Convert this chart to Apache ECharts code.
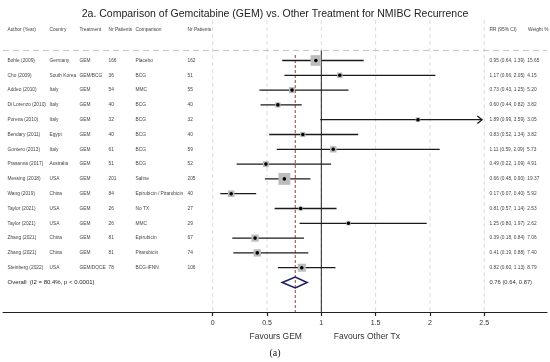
<!DOCTYPE html>
<html><head><meta charset="utf-8">
<script src="https://cdn.jsdelivr.net/npm/echarts@6/dist/echarts.min.js"></script>
<style>html,body{margin:0;padding:0;background:#fff}#c{width:550px;height:362px}</style>
</head><body><div id="c"></div>
<script>
// ---------------- DATA ----------------
const title = '2a. Comparison of Gemcitabine (GEM) vs. Other Treatment for NMIBC Recurrence';
const headers = ['Author (Year)', 'Country', 'Treatment', 'Nr Patients', 'Comparison', 'Nr Patients', 'RR (95% CI)', 'Weight %'];
const authors = ['Bohle (2009)', 'Cho (2009)', 'Addeo (2010)', 'Di Lorenzo (2010)', 'Porena (2010)', 'Bendary (2011)', 'Gontero (2013)', 'Prasanna (2017)', 'Messing (2018)', 'Wang (2019)', 'Taylor (2021)', 'Taylor (2021)', 'Zhang (2021)', 'Zhang (2021)', 'Steinberg (2022)'];
const countries = ['Germany', 'South Korea', 'Italy', 'Italy', 'Italy', 'Egypt', 'Italy', 'Australia', 'USA', 'China', 'USA', 'USA', 'China', 'China', 'USA'];
const treatments = ['GEM', 'GEM/BCG', 'GEM', 'GEM', 'GEM', 'GEM', 'GEM', 'GEM', 'GEM', 'GEM', 'GEM', 'GEM', 'GEM', 'GEM', 'GEM/DOCE'];
const nTreat = [166, 36, 54, 40, 32, 40, 61, 51, 201, 84, 26, 26, 81, 81, 78];
const comparisons = ['Placebo', 'BCG', 'MMC', 'BCG', 'BCG', 'BCG', 'BCG', 'BCG', 'Saline', 'Epirubicin / Pirarubicin', 'No TX', 'MMC', 'Epirubicin', 'Pirarubicin', 'BCG-IFNN'];
const nComp = [162, 51, 55, 40, 32, 40, 59, 52, 205, 40, 27, 29, 67, 74, 106];
const rr = [0.95, 1.17, 0.73, 0.60, 1.89, 0.83, 1.11, 0.49, 0.66, 0.17, 0.81, 1.25, 0.39, 0.41, 0.82];
const lower = [0.64, 0.66, 0.43, 0.44, 0.99, 0.52, 0.59, 0.22, 0.48, 0.07, 0.57, 0.80, 0.18, 0.19, 0.60];
const upper = [1.39, 2.05, 1.25, 0.82, 3.59, 1.34, 2.09, 1.09, 0.90, 0.40, 1.14, 1.97, 0.84, 0.88, 1.13];
const weights = [15.65, 4.15, 5.20, 3.82, 3.05, 3.82, 5.73, 4.91, 19.37, 5.92, 2.53, 2.62, 7.06, 7.40, 8.79];
const overallLabel = 'Overall  (I2 = 80.4%, p < 0.0001)';
const overallRR = [0.76];
const overallLo = [0.64];
const overallHi = [0.87];
const xTicks = [0, 0.5, 1, 1.5, 2, 2.5];
const favourLabels = ['Favours GEM', 'Favours Other Tx'];
const caption = '(a)';

// ---------------- LAYOUT / STYLE ----------------
const FONT = '"Liberation Sans", Arial, sans-serif';
const COLX = [7.5, 49.5, 79.5, 108.5, 135.5, 187.5, 489.5, 528];
const X_MIN = -1.931, X_MAX = 3.078;
const Y_MIN = -2.736, Y_MAX = 16.993;
const HEADER_ROW = -2.1, SEP_ROW = -0.68, REF_TOP = -0.37;
const OVERALL_ROW = authors.length;
const CLIP = 2.48;
const FAV_X = [0.58, 1.42];
const ROW_FS = 4.8;

function T(x, y, text, size, color, align, family) {
  return {type: 'text', x: x, y: y, silent: true,
    style: {text: text, fontSize: size, fontFamily: family || FONT, fill: color || '#333',
      align: align || 'left', verticalAlign: 'middle', textAlign: align || 'left', textVerticalAlign: 'middle'}};
}
const f2 = v => v.toFixed(2);

const chart = echarts.init(document.getElementById('c'));
const idx = authors.map((_, i) => i);

const option = {
  animation: false,
  backgroundColor: '#fff',
  title: {text: title, left: 'center', top: 4,
    textStyle: {fontSize: 10.5, fontWeight: 'normal', color: '#222', fontFamily: FONT}},
  grid: {left: 3, right: 3, top: 20, bottom: 50},
  xAxis: {type: 'value', min: X_MIN, max: X_MAX,
    axisLine: {show: true, onZero: false, lineStyle: {color: '#222', width: 1.2}},
    axisTick: {show: true, customValues: xTicks, length: 4, lineStyle: {color: '#222', width: 1.2}},
    axisLabel: {show: true, customValues: xTicks, fontSize: 7, color: '#333', fontFamily: FONT, margin: 8,
      formatter: v => String(v)},
    splitLine: {show: false}},
  yAxis: {type: 'value', min: Y_MIN, max: Y_MAX, inverse: true, show: false, splitLine: {show: false},
    axisLine: {onZero: false}},
  series: [
    // vertical gridlines
    {type: 'custom', z: 1, clip: false, silent: true,
      data: xTicks.map(v => [v]),
      renderItem: (p, api) => {
        const a = api.coord([api.value(0), Y_MIN]);
        const b = api.coord([api.value(0), Y_MAX]);
        return {type: 'line', shape: {x1: a[0], y1: a[1], x2: b[0], y2: b[1]},
          style: {stroke: '#dcdcdc', lineWidth: 1, lineDash: [4, 3]}};
      }},
    // horizontal separator
    {type: 'line', z: 2, silent: true, symbol: 'none', data: [[X_MIN, SEP_ROW], [X_MAX, SEP_ROW]],
      lineStyle: {color: '#c4c4c4', width: 1, type: [6, 4]}},
    // line of no effect
    {type: 'line', z: 3, silent: true, symbol: 'none', data: [[1, SEP_ROW], [1, Y_MAX]],
      lineStyle: {color: '#222', width: 1}},
    // overall estimate reference
    {type: 'line', z: 3, silent: true, symbol: 'none', data: [[overallRR[0], REF_TOP], [overallRR[0], Y_MAX]],
      lineStyle: {color: '#9a3b3b', width: 1, type: [3, 2]}},
    // study CIs, squares, points
    {type: 'custom', z: 5, clip: false, silent: true,
      data: idx.map(i => [rr[i], i, lower[i], upper[i], weights[i]]),
      renderItem: (p, api) => {
        const i = api.value(1);
        const lo = api.value(2), hi = api.value(3), w = api.value(4);
        const c = api.coord([api.value(0), i]);
        const a = api.coord([lo, i]);
        const b = api.coord([Math.min(hi, CLIP), i]);
        const kids = [];
        kids.push({type: 'line', shape: {x1: a[0], y1: a[1], x2: b[0], y2: b[1]},
          style: {stroke: '#1a1a1a', lineWidth: 1.3}});
        if (hi > CLIP) {
          kids.push({type: 'polyline', shape: {points: [[b[0] - 4.7, b[1] - 3.7], [b[0], b[1]], [b[0] - 4.7, b[1] + 3.7]]},
            style: {stroke: '#1a1a1a', lineWidth: 1.3, fill: null}});
        }
        const s = 2.7 * Math.sqrt(w);
        kids.push({type: 'rect', shape: {x: c[0] - s / 2, y: c[1] - s / 2, width: s, height: s},
          style: {fill: '#bcbcbc', stroke: null}});
        kids.push({type: 'circle', shape: {cx: c[0], cy: c[1], r: 1.8}, style: {fill: '#000'}});
        return {type: 'group', children: kids};
      }},
    // overall diamond
    {type: 'custom', z: 6, clip: false, silent: true,
      data: [[overallRR[0], OVERALL_ROW, overallLo[0], overallHi[0]]],
      renderItem: (p, api) => {
        const row = api.value(1);
        const c = api.coord([api.value(0), row]);
        const a = api.coord([api.value(2), row]);
        const b = api.coord([api.value(3), row]);
        const h = 5.5;
        return {type: 'polygon', shape: {points: [[a[0], a[1]], [c[0], c[1] - h], [b[0], b[1]], [c[0], c[1] + h]]},
          style: {stroke: '#1d1d5e', lineWidth: 1.5, fill: null}};
      }},
    // table texts
    {type: 'custom', z: 7, clip: false, silent: true,
      data: [[0, HEADER_ROW]],
      renderItem: (p, api) => {
        const y = api.coord([0, HEADER_ROW])[1];
        const kids = headers.map((h, k) => T(COLX[k], y, h, ROW_FS, '#444'));
        idx.forEach(i => {
          const yy = api.coord([0, i])[1];
          const vals = [authors[i], countries[i], treatments[i], String(nTreat[i]), comparisons[i], String(nComp[i]),
            f2(rr[i]) + ' (' + f2(lower[i]) + ', ' + f2(upper[i]) + ')  ' + f2(weights[i])];
          vals.forEach((t, k) => kids.push(T(COLX[k], yy, t, ROW_FS, '#444')));
        });
        const yo = api.coord([0, OVERALL_ROW])[1];
        kids.push(T(COLX[0], yo, overallLabel, 6, '#222'));
        kids.push(T(COLX[6], yo, f2(overallRR[0]) + ' (' + f2(overallLo[0]) + ', ' + f2(overallHi[0]) + ')', 5.8, '#333'));
        const yb = api.coord([0, Y_MAX])[1];
        favourLabels.forEach((t, k) => kids.push(T(api.coord([FAV_X[k], 0])[0], yb + 25, t, 8.5, '#333', 'center')));
        return {type: 'group', children: kids};
      }}
  ],
  graphic: [{type: 'text', left: 'center', top: 348,
    style: {text: caption, fontSize: 10, fontFamily: '"Liberation Serif", "Times New Roman", serif', fill: '#222'}}]
};
chart.setOption(option);
</script>
</body></html>
